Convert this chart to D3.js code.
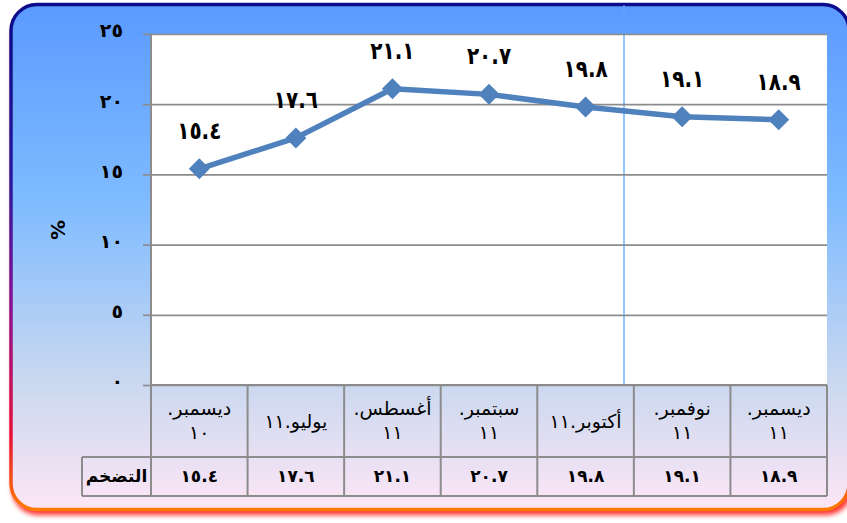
<!DOCTYPE html>
<html><head><meta charset="utf-8">
<script src="https://cdn.jsdelivr.net/npm/d3@7"></script>
<style>html,body{margin:0;padding:0;background:#fff;overflow:hidden}</style>
</head><body>
<svg id="c" width="847" height="523"></svg>
<script>
const categories = ["ديسمبر.\n١٠","يوليو.١١","أغسطس.\n١١","سبتمبر.\n١١","أكتوبر.١١","نوفمبر.\n١١","ديسمبر.\n١١"];
const inflation = [15.4,17.6,21.1,20.7,19.8,19.1,18.9];
const yTicks = [0,5,10,15,20,25];
const rowLabel = "التضخم";
const yTitle = "%";

const AR = "٠١٢٣٤٥٦٧٨٩";
const toAr = s => String(s).replace(/[0-9]/g, d => AR[+d]);
const fmt = v => toAr(d3.format(".1f")(v));

const svg = d3.select("#c");
const FONT = "DejaVu Sans";
const defs = svg.append("defs");

const fillG = defs.append("linearGradient").attr("id","fillG").attr("x1",0).attr("y1",0).attr("x2",0).attr("y2",1);
[[0,"#5a9aff"],[0.4,"#80bcff"],[0.75,"#cad8ef"],[1,"#fde6f6"]].forEach(([o,c])=>fillG.append("stop").attr("offset",o).attr("stop-color",c));
const strokeG = defs.append("linearGradient").attr("id","strokeG").attr("x1",0).attr("y1",0).attr("x2",0).attr("y2",1);
[[0,"#0a0a8a"],[0.35,"#2a1a9a"],[0.6,"#8a1090"],[0.85,"#e8103a"],[1,"#ff7a00"]].forEach(([o,c])=>strokeG.append("stop").attr("offset",o).attr("stop-color",c));
const blur = defs.append("filter").attr("id","blur").attr("x",-0.1).attr("y",-0.1).attr("width",1.2).attr("height",1.2);
blur.append("feGaussianBlur").attr("stdDeviation",2.5);

// card
svg.append("rect").attr("x",12).attr("y",10).attr("width",840).attr("height",505).attr("rx",26)
  .attr("fill","#ff1010").attr("opacity",0.85).attr("filter","url(#blur)");
svg.append("rect").attr("x",11).attr("y",4.5).attr("width",838).attr("height",505).attr("rx",26)
  .attr("fill","url(#fillG)").attr("stroke","url(#strokeG)").attr("stroke-width",3.5);

const x = d3.scaleBand().domain(d3.range(categories.length)).range([151,827]).padding(0);
const y = d3.scaleLinear().domain([0,25]).range([385,34]);
const cx = i => x(i) + x.bandwidth()/2;

// plot area
svg.append("rect").attr("x",151).attr("y",y(25)).attr("width",827-151).attr("height",y(0)-y(25)).attr("fill","#fff");

// decorative thin vertical line
svg.append("line").attr("x1",624).attr("x2",624).attr("y1",5).attr("y2",385).attr("stroke","#5aa6ff").attr("stroke-width",1.3);

// gridlines
const grid = svg.append("g").attr("transform","translate(151,0)")
  .call(d3.axisLeft(y).tickValues(yTicks).tickSize(-(827-151)).tickFormat(""));
grid.select(".domain").remove();
grid.selectAll("line").attr("stroke","#8c8c8c").attr("stroke-width",1.7);

// y axis
const ax = svg.append("g").attr("transform","translate(151,0)")
  .call(d3.axisLeft(y).tickValues(yTicks).tickSize(8).tickPadding(0).tickFormat(toAr));
ax.select(".domain").remove();
ax.selectAll("line").attr("stroke","#8c8c8c").attr("stroke-width",1.7);
ax.selectAll("text").attr("font-family",FONT).attr("font-weight","bold").attr("font-size",19)
  .attr("fill","#000").attr("x",-28).attr("dy","0.15em").attr("letter-spacing",1);

svg.append("text").attr("transform","translate(58,230) rotate(-90)").attr("text-anchor","middle")
  .attr("dominant-baseline","central").attr("font-family",FONT).attr("font-weight","bold").attr("font-size",20).text(yTitle);

// table
const tbl = svg.append("g").attr("stroke","#8c8c8c").attr("stroke-width",2).attr("fill","none");
const tTop = y(0), tMid = 457, tBot = 496;
tbl.append("line").attr("x1",151).attr("x2",827).attr("y1",tTop).attr("y2",tTop);
tbl.append("line").attr("x1",82).attr("x2",827).attr("y1",tMid).attr("y2",tMid);
tbl.append("line").attr("x1",82).attr("x2",827).attr("y1",tBot).attr("y2",tBot);
tbl.append("line").attr("x1",82).attr("x2",82).attr("y1",tMid).attr("y2",tBot);
tbl.append("line").attr("x1",151).attr("x2",151).attr("y1",y(25)).attr("y2",tBot);
tbl.selectAll(".vl").data(categories).enter().append("line")
  .attr("x1",(d,i)=>x(i)+x.bandwidth()).attr("x2",(d,i)=>x(i)+x.bandwidth()).attr("y1",tTop).attr("y2",tBot);

// header labels (right-to-left paragraphs)
categories.forEach((c,i)=>{
  const lines = c.split("\n");
  const y0 = lines.length===1 ? 421 : 408;
  lines.forEach((ln,k)=>{
    svg.append("text").attr("x",cx(i)).attr("y",y0+k*24).attr("text-anchor","middle")
      .attr("dominant-baseline","central").attr("direction","rtl").style("direction","rtl")
      .attr("font-family",FONT).attr("font-size",19).attr("fill","#000").text(ln);
  });
});
// value row
svg.append("text").attr("x",116.5).attr("y",476).attr("text-anchor","middle").attr("dominant-baseline","central")
  .attr("direction","rtl").attr("font-family",FONT).attr("font-weight","bold").attr("font-size",17).text(rowLabel);
svg.selectAll(".tv").data(inflation).enter().append("text")
  .attr("x",(d,i)=>cx(i)).attr("y",476).attr("text-anchor","middle").attr("dominant-baseline","central")
  .attr("font-family",FONT).attr("font-weight","bold").attr("font-size",17).attr("letter-spacing",2).text(d=>fmt(d));

// line
const line = d3.line().x((d,i)=>cx(i)).y(d=>y(d));
svg.append("path").datum(inflation).attr("d",line).attr("fill","none").attr("stroke","#4f81bd").attr("stroke-width",5.5).attr("stroke-linejoin","round");
const diamond = "M0,-10.5L10.5,0L0,10.5L-10.5,0Z";
svg.selectAll(".mk").data(inflation).enter().append("path")
  .attr("transform",(d,i)=>`translate(${cx(i)},${y(d)})`).attr("d",diamond).attr("fill","#4f81bd");

// data labels
svg.selectAll(".dl").data(inflation).enter().append("text")
  .attr("transform",(d,i)=>`translate(${cx(i)},${y(d)-30}) scale(1,1.2)`).attr("text-anchor","middle")
  .attr("font-family",FONT).attr("font-weight","bold").attr("font-size",20).attr("letter-spacing",1).attr("fill","#000").text(d=>fmt(d));
</script>
</body></html>
